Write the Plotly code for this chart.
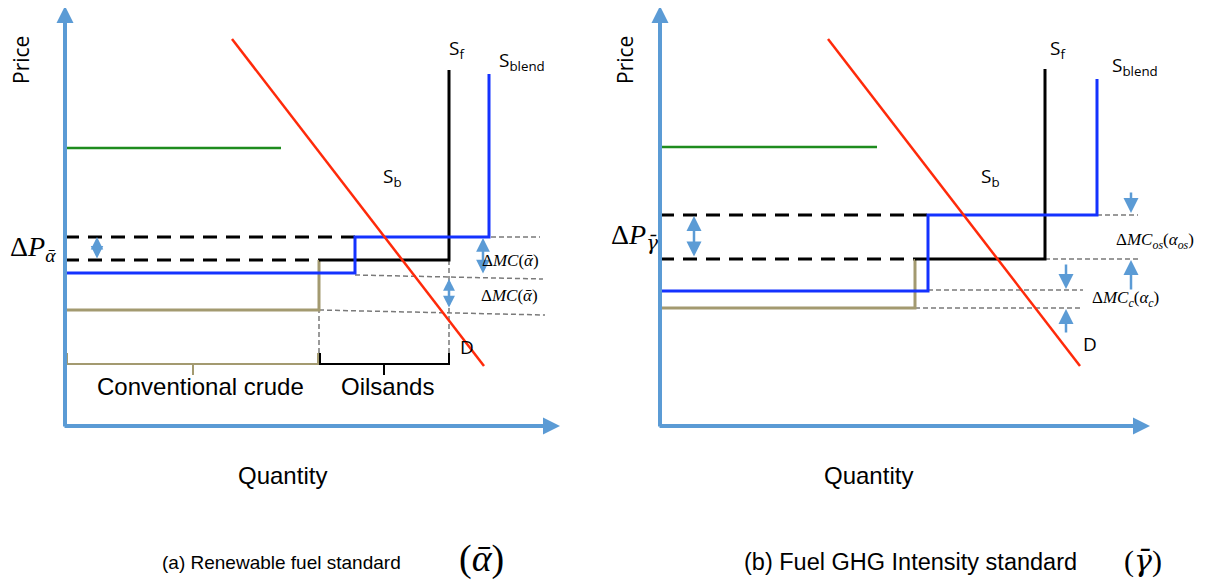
import plotly.graph_objects as go

# ---------------- data (quantity q, price p; origin at axis corner) ----------------
AXIS_Q_MAX = [495, 490]
AXIS_P_MAX = [420, 420]

# Panel (a) Renewable fuel standard
a_green_q = [0, 216];           a_green_p = [278, 278]
a_demand_q = [167, 419];        a_demand_p = [387, 60]
a_conv_q = [0, 254, 254];       a_conv_p = [116, 116, 166]
a_sf_q = [254, 384, 384];       a_sf_p = [166, 166, 356]
a_blend_q = [0, 290, 290, 424, 424]; a_blend_p = [153, 153, 189, 189, 352]
a_dash_hi_q = [0, 290];         a_dash_hi_p = [189, 189]
a_dash_lo_q = [0, 254];         a_dash_lo_p = [166, 166]
a_guides = [([290, 475], [189, 189]), ([290, 478], [151, 147]),
            ([254, 480], [116, 111]), ([254, 254], [166, 65]), ([384, 384], [166, 65])]
a_brace_conv_q = [2, 2, 128, 128, 128, 253, 253]; a_brace_conv_p = [73, 62, 62, 51, 62, 62, 73]
a_brace_oil_q = [255, 255, 319, 319, 319, 384, 384]; a_brace_oil_p = [73, 62, 62, 51, 62, 62, 73]
a_double_arrows = [(32, 189, 166, 1.0), (418, 188, 151, 1.1), (384, 147, 117, 0.95)]

# Panel (b) Fuel GHG intensity standard
b_green_q = [0, 217];           b_green_p = [279, 279]
b_demand_q = [168, 420];        b_demand_p = [387, 60]
b_conv_q = [0, 255, 255];       b_conv_p = [118, 118, 167]
b_sf_q = [255, 385, 385];       b_sf_p = [167, 167, 357]
b_blend_q = [0, 268, 268, 437, 437]; b_blend_p = [135, 135, 211, 211, 347]
b_dash_hi_q = [0, 268];         b_dash_hi_p = [211, 211]
b_dash_lo_q = [0, 255];         b_dash_lo_p = [167, 167]
b_guides = [([437, 478], [211, 211]), ([385, 478], [167, 167]),
            ([268, 423], [136, 136]), ([255, 420], [118, 118])]
b_double_arrows = [(34, 210, 168, 1.2)]
b_single_arrows = [(471, 235, 213), (471, 135, 166), (406, 163, 137), (406, 92, 117)]

AXIS_BLUE = "#5b9bd5"
LINE_BLUE = "#1432ff"
RED = "#ff2a0a"
GREEN = "#1e8c1e"
OLIVE = "#a39a70"
GRAY = "#7a7a7a"

fig = go.Figure()


def line(q, p, color, width, dash="solid", panel=1):
    fig.add_trace(go.Scatter(
        x=q, y=p, mode="lines", line=dict(color=color, width=width, dash=dash),
        xaxis="x" if panel == 1 else "x2", yaxis="y" if panel == 1 else "y2",
        showlegend=False, hoverinfo="skip"))


# Panel a
for gq, gp in a_guides:
    line(gq, gp, GRAY, 1.5, "5px,3px", 1)
line(a_green_q, a_green_p, GREEN, 2.5, panel=1)
line(a_dash_hi_q, a_dash_hi_p, "black", 3, "14px,9px", 1)
line(a_dash_lo_q, a_dash_lo_p, "black", 3, "14px,9px", 1)
line(a_conv_q, a_conv_p, OLIVE, 3, panel=1)
line(a_sf_q, a_sf_p, "black", 3, panel=1)
line(a_blend_q, a_blend_p, LINE_BLUE, 3, panel=1)
line(a_demand_q, a_demand_p, RED, 2.5, panel=1)
line(a_brace_conv_q, a_brace_conv_p, OLIVE, 2, panel=1)
line(a_brace_oil_q, a_brace_oil_p, "black", 2, panel=1)

# Panel b
for gq, gp in b_guides:
    line(gq, gp, GRAY, 1.5, "5px,3px", 2)
line(b_green_q, b_green_p, GREEN, 2.5, panel=2)
line(b_dash_hi_q, b_dash_hi_p, "black", 3, "14px,9px", 2)
line(b_dash_lo_q, b_dash_lo_p, "black", 3, "14px,9px", 2)
line(b_conv_q, b_conv_p, OLIVE, 3, panel=2)
line(b_sf_q, b_sf_p, "black", 3, panel=2)
line(b_blend_q, b_blend_p, LINE_BLUE, 3, panel=2)
line(b_demand_q, b_demand_p, RED, 2.5, panel=2)

ann = []


def arrow(xr, yr, q_head, p_head, q_tail, p_tail, width, size, both=False):
    ann.append(dict(xref=xr, yref=yr, axref=xr, ayref=yr, x=q_head, y=p_head,
                    ax=q_tail, ay=p_tail, text="", showarrow=True, arrowhead=2,
                    arrowsize=size, arrowwidth=width, arrowcolor=AXIS_BLUE,
                    arrowside="end+start" if both else "end", standoff=0, startstandoff=0))


for i, (xr, yr) in enumerate([("x", "y"), ("x2", "y2")]):
    arrow(xr, yr, 0, AXIS_P_MAX[i], 0, -2, 4, 0.85)
    arrow(xr, yr, AXIS_Q_MAX[i], 0, -2, 0, 4, 0.85)

for q, p1, p2, s in a_double_arrows:
    arrow("x", "y", q, p1, q, p2, 2.5, s, both=True)
for q, p1, p2, s in b_double_arrows:
    arrow("x2", "y2", q, p1, q, p2, 2.5, s, both=True)
for q, p_tail, p_head in b_single_arrows:
    arrow("x2", "y2", q, p_head, q, p_tail, 2.5, 1.2)

SANS = "Open Sans"
ARIAL = "Liberation Sans"
SERIF = "Liberation Serif"
GBAR = '<span style="font-family:DejaVu Serif"><i>γ\u0304</i></span>'


def text(xr, yr, q, p, s, size, family, xanchor="center", angle=0):
    ann.append(dict(xref=xr, yref=yr, x=q, y=p, text=s, showarrow=False,
                    xanchor=xanchor, yanchor="middle", textangle=angle,
                    font=dict(family=family, size=size, color="black")))


# Panel a labels
text("x", "y", -44, 366, "Price", 21, SANS, angle=-90)
text("x", "y", 217, -49, "Quantity", 24, ARIAL)
text("x", "y", 392, 377, "S<sub>f</sub>", 19, SANS)
text("x", "y", 432, 365, "S<sub>blend</sub>", 19, SANS, xanchor="left")
text("x", "y", 327, 249, "S<sub>b</sub>", 19, SANS)
text("x", "y", 402, 79, "D", 19, SANS)
text("x", "y", 135, 40, "Conventional crude", 24, ARIAL)
text("x", "y", 322, 40, "Oilsands", 24, ARIAL)
text("x", "y", -32, 178, "Δ<i>P</i><sub><i>ᾱ</i></sub>", 28, SERIF)
text("x", "y", 445, 166, "Δ<i>MC</i>(<i>ᾱ</i>)", 17, SERIF)
text("x", "y", 444, 131, "Δ<i>MC</i>(<i>ᾱ</i>)", 17, SERIF)

# Panel b labels
text("x2", "y2", -35, 366, "Price", 21, SANS, angle=-90)
text("x2", "y2", 208, -49, "Quantity", 24, ARIAL)
text("x2", "y2", 398, 377, "S<sub>f</sub>", 19, SANS)
text("x2", "y2", 450, 360, "S<sub>blend</sub>", 19, SANS, xanchor="left")
text("x2", "y2", 330, 249, "S<sub>b</sub>", 19, SANS)
text("x2", "y2", 430, 82, "D", 19, SANS)
text("x2", "y2", -26, 189, "Δ<i>P</i><sub>" + GBAR + "</sub>", 28, SERIF)
text("x2", "y2", 495, 185, "Δ<i>MC</i><sub><i>os</i></sub>(<i>α</i><sub><i>os</i></sub>)", 17, SERIF)
text("x2", "y2", 465, 127, "Δ<i>MC</i><sub><i>c</i></sub>(<i>α</i><sub><i>c</i></sub>)", 17, SERIF)


# Captions (page body is offset by 8 px on screen)
def caption(X, Y, s, size, family, xanchor="left"):
    ann.append(dict(xref="paper", yref="paper", x=(X - 8) / 1212, y=1 - (Y - 8) / 585,
                    showarrow=False, xanchor=xanchor, yanchor="middle", text=s,
                    font=dict(family=family, size=size, color="black")))


caption(160, 562, "(a) Renewable fuel standard", 19, ARIAL)
caption(481, 558, "(<i>ᾱ</i>)", 38, SERIF, "center")
caption(742, 562, "(b) Fuel GHG Intensity standard", 23.5, ARIAL)
caption(1143, 560, "(" + GBAR + ")", 30, SERIF, "center")

ax_common = dict(visible=False, showgrid=False, zeroline=False, fixedrange=True)
fig.update_layout(
    width=1212, height=585, margin=dict(l=0, r=0, t=0, b=0),
    paper_bgcolor="white", plot_bgcolor="white", showlegend=False,
    xaxis=dict(domain=[0, 0.5], range=[-57, 549], **ax_common),
    xaxis2=dict(domain=[0.5, 1], range=[-46, 560], **ax_common),
    yaxis=dict(domain=[0, 1], range=[-167, 418], anchor="x", **ax_common),
    yaxis2=dict(domain=[0, 1], range=[-167, 418], anchor="x2", **ax_common),
    annotations=ann,
)

fig.write_html("out.html")
